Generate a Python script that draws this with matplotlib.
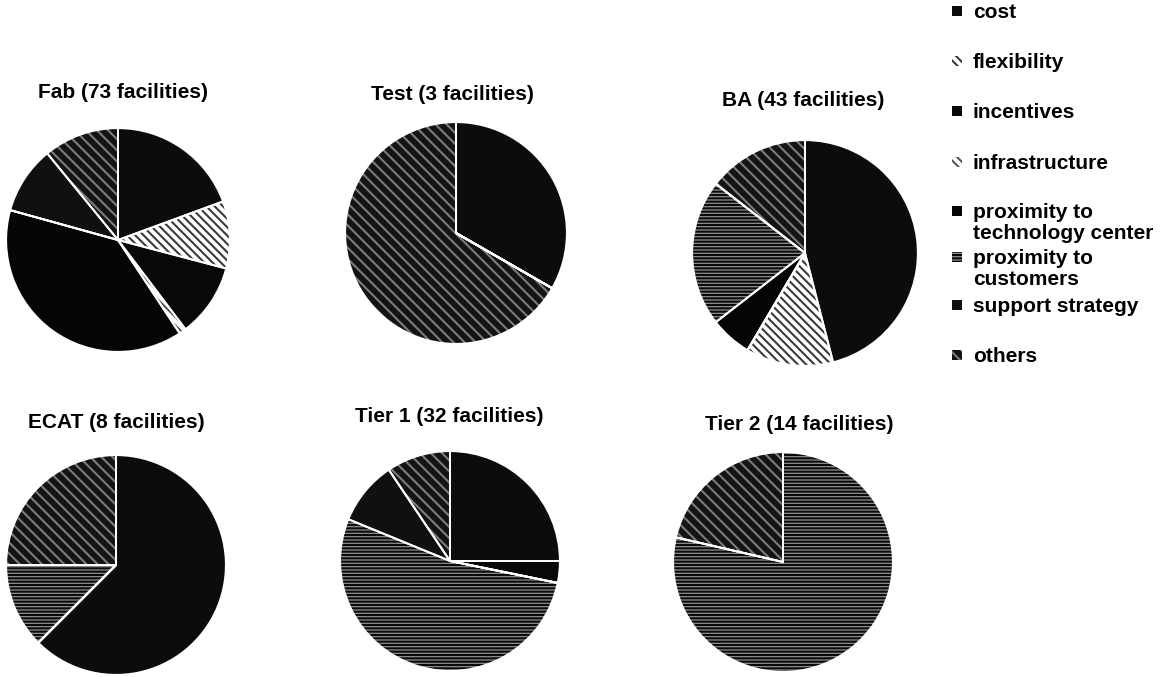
import matplotlib
matplotlib.use("Agg")
import matplotlib.pyplot as plt
from matplotlib.patches import Rectangle

plt.rcParams['font.family'] = ['Liberation Sans', 'DejaVu Sans']
plt.rcParams['hatch.linewidth'] = 1.5

W, H = 1165, 677

categories = ["cost", "flexibility", "incentives", "infrastructure",
              "proximity to\ntechnology center", "proximity to\ncustomers",
              "support strategy", "others"]

# share of each location reason (%), same category order as above
fab = [19.4, 9.7, 10.6, 1.0, 38.6, 0, 9.8, 10.9]
test = [33.3, 0, 0, 0, 0, 0, 0, 66.7]
ba = [46.0, 12.5, 0, 0, 6.0, 21.0, 0, 14.5]
ecat = [62.5, 0, 0, 0, 0, 12.5, 0, 25.0]
tier1 = [25.0, 0, 3.2, 0, 0, 53.0, 9.4, 9.4]
tier2 = [0, 0, 0, 0, 0, 78.6, 0, 21.4]

titles = ["Fab (73 facilities)", "Test (3 facilities)", "BA (43 facilities)",
          "ECAT (8 facilities)", "Tier 1 (32 facilities)", "Tier 2 (14 facilities)"]
series = [fab, test, ba, ecat, tier1, tier2]

# (face, hatch, hatch colour) per category - black & white print style
styles = [
    ("#0c0c0c", None, "#0c0c0c"),
    ("white", "\\\\\\\\", "#3a3a3a"),
    ("#080808", None, "#080808"),
    ("white", "\\\\\\\\", "#555555"),
    ("#050505", None, "#050505"),
    ("#8e8e8e", "-----", "#0a0a0a"),
    ("#101010", None, "#101010"),
    ("#141414", "\\\\\\", "#7c7c7c"),
]

# pie centre (px), radius (px), title centre (px)
layout = [((118, 240), 113, (123, 92)),
          ((456, 233), 112, (452, 95)),
          ((805, 253), 114, (803, 101)),
          ((116, 565), 111, (116, 422)),
          ((450, 561), 111, (449, 416)),
          ((783, 562), 111, (799, 425))]

fig = plt.figure(figsize=(W / 100, H / 100), dpi=100)

for title, vals, ((cx, cy), r, (tx, ty)) in zip(titles, series, layout):
    ax = fig.add_axes([(cx - r) / W, 1 - (cy + r) / H, 2 * r / W, 2 * r / H])
    wedges, _ = ax.pie(vals, startangle=90, counterclock=False, radius=1.0)
    for w, (face, hatch, hc) in zip(wedges, styles):
        w.set_facecolor(face)
        w.set_edgecolor(hc)
        w.set_linewidth(0)
        if hatch:
            w.set_hatch(hatch)
    # white separators between slices
    ax.pie(vals, startangle=90, counterclock=False, radius=1.0,
           wedgeprops=dict(fill=False, edgecolor="white", linewidth=1.4))
    ax.set_xlim(-1.01, 1.01)
    ax.set_ylim(-1.01, 1.01)
    fig.text(tx / W, 1 - ty / H, title, ha="center", va="center",
             fontsize=15, fontweight="bold")

# legend column on the right: first-line centre of each entry (px)
leg_y = [11, 61, 111, 162, 211, 257, 305, 355]
for cat, (face, hatch, hc), y in zip(categories, styles, leg_y):
    sq = Rectangle((952 / W, 1 - (y + 5) / H), 10 / W, 10 / H,
                   transform=fig.transFigure, facecolor=face,
                   edgecolor=hc, linewidth=0, hatch=hatch)
    fig.patches.append(sq)
    fig.text(973 / W, 1 - (y - 8) / H, cat, ha="left", va="top",
             fontsize=15, fontweight="bold", linespacing=1.15)

fig.savefig("out.png", dpi=100)
